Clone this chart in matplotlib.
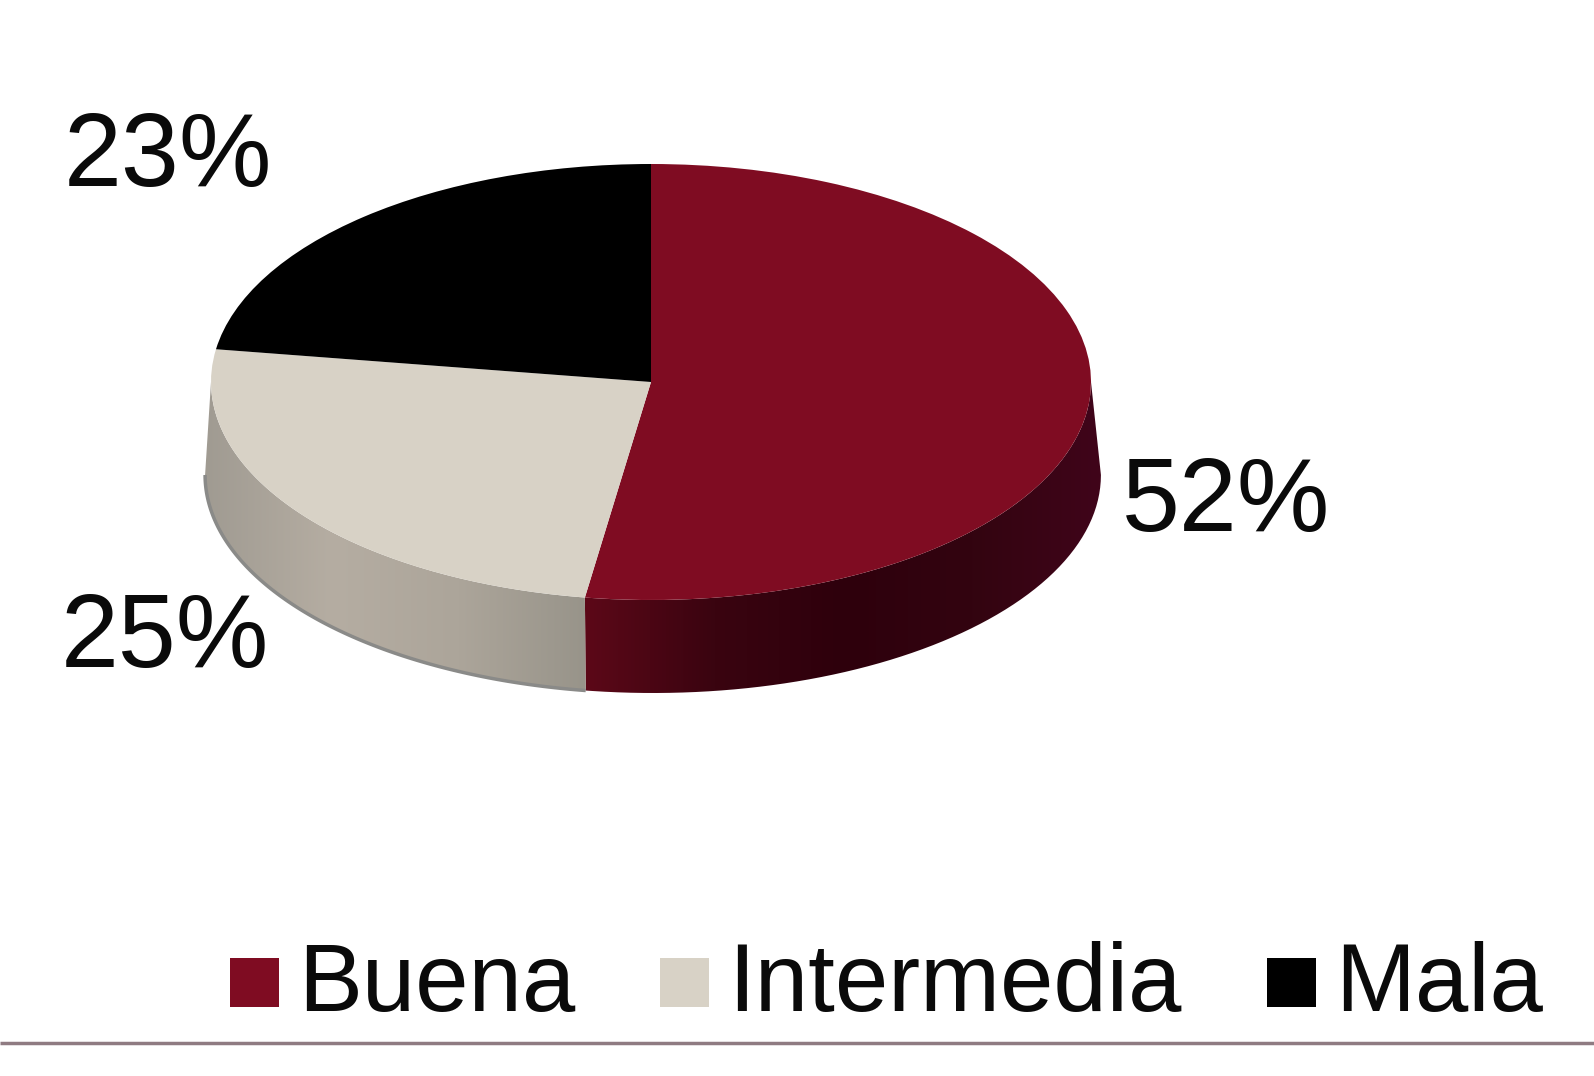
import numpy as np
import matplotlib
matplotlib.use("Agg")
import matplotlib.pyplot as plt
from matplotlib.colors import LinearSegmentedColormap
from matplotlib.legend_handler import HandlerPatch
from matplotlib.patches import PathPatch, Patch
from matplotlib.path import Path

categories = ["Buena", "Intermedia", "Mala"]
values = [52.4, 25.0, 22.6]
colors = ["#7f0c22", "#d8d2c6", "#000000"]

plt.rcParams["font.family"] = ["Liberation Sans", "DejaVu Sans"]

W, H = 1594, 1076
CX, CY, RX, RY = 651, 382, 440, 218
DEPTH = 93
WIDEN = 1.018
LOW_DX = 2 / RX


def px(x, y):
    # pixel position in the reference -> data coords of the unit pie
    return (x - CX) / RX, (CY - y) / RY


fig = plt.figure(figsize=(W / 100, H / 100), dpi=100, facecolor="white")
ax = fig.add_axes([0, 0, 1, 1])

wedges, _ = ax.pie(values, colors=colors, startangle=90, counterclock=False, radius=1,
                   wedgeprops={"linewidth": 0, "zorder": 3})
ax.set_aspect("auto")
ax.set_axis_off()


def wall(a0, a1, stops):
    # side of the disc between two angles (degrees), filled with a left to right gradient
    t = np.radians(np.linspace(a0, a1, 120))
    top = np.column_stack([np.cos(t), np.sin(t)])
    low = np.column_stack([WIDEN * np.cos(t) + LOW_DX, np.sin(t) - DEPTH / RY])[::-1]
    pts = np.vstack([top, low, top[:1]])
    patch = PathPatch(Path(pts), facecolor="none", edgecolor="none")
    ax.add_patch(patch)
    cmap = LinearSegmentedColormap.from_list("wall", stops)
    im = ax.imshow(np.linspace(0, 1, 256).reshape(1, -1), cmap=cmap, aspect="auto",
                   extent=[pts[:, 0].min(), pts[:, 0].max(), pts[:, 1].min(), pts[:, 1].max()],
                   zorder=2, interpolation="bilinear")
    im.set_clip_path(patch)
    return low


# split angle between slices, clockwise from 12 o'clock
split = 90 - 360 * values[0] / sum(values)
wall(split, 0, ["#5c0818", "#3a0410", "#2e000c", "#330410", "#40051a"])
low = wall(180, 360 + split, ["#a09b92", "#b5ada2", "#aca59a", "#98948a"])
ax.plot(low[:, 0], low[:, 1], color="#8a8a88", lw=2.5, zorder=2.5, solid_capstyle="butt")

ax.set_xlim(px(0, 0)[0], px(W, 0)[0])
ax.set_ylim(px(0, H)[1], px(0, 0)[1])

# value labels
label_pos = [(1226, 504), (165, 640), (168, 159)]
for v, (x, y) in zip(values, label_pos):
    ax.text(*px(x, y), f"{round(v)}%", fontsize=75, color="#0a0a0a", ha="center", va="center", zorder=5)

# legend along the bottom
handles = [Patch(facecolor=c, edgecolor="none") for c in colors]
leg = fig.legend(handles, categories, ncol=3, loc="center right", frameon=False,
                 bbox_to_anchor=(1543 / W, 1 - 986 / H), fontsize=69,
                 handlelength=0.55, handleheight=0.2, handletextpad=0.2,
                 columnspacing=0.85, borderpad=0, borderaxespad=0, labelcolor="#0a0a0a",
                 handler_map={Patch: HandlerPatch(xpad=0.04, ypad=-0.135)})

# thin rule under the legend
ax.plot(px(np.array([0, W]), np.array([1043, 1043]))[0], [px(0, 1043)[1]] * 2,
        color="#8f7b82", lw=2.5, zorder=4, solid_capstyle="butt")

fig.savefig("out.png", dpi=100)
